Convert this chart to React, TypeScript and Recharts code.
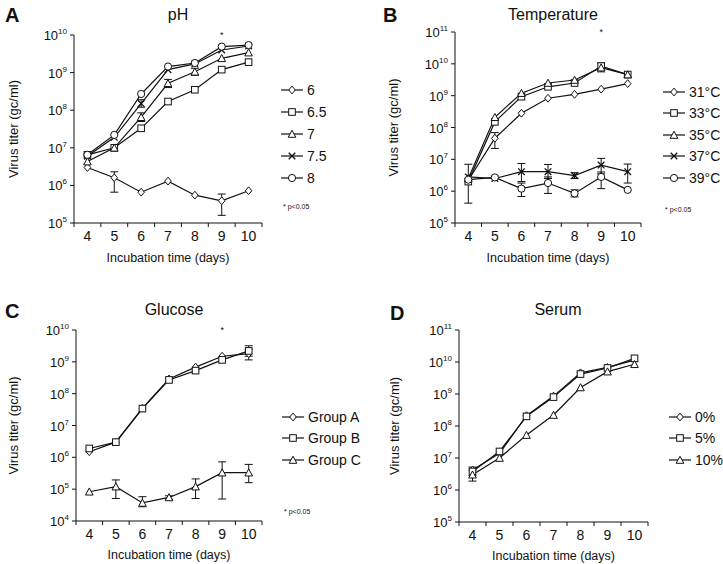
import React from 'react';
import { LineChart, Line, XAxis, YAxis, ErrorBar, Legend, ReferenceDot } from 'recharts';

const FONT = '"Liberation Sans", Arial, Helvetica, sans-serif';
const INK = '#111';

const days = [4, 5, 6, 7, 8, 9, 10];
const starDay = 9;

// A - pH
const phLabels = ['6', '6.5', '7', '7.5', '8'];
const ph6 = [3.0e6, 1.6e6, 6.6e5, 1.3e6, 5.5e5, 3.9e5, 7.2e5];
const ph6Err = [null, [6.6e5, 2.3e6], null, null, null, [1.6e5, 5.9e5], null];
const ph65 = [6.5e6, 1.0e7, 3.3e7, 1.7e8, 3.5e8, 1.2e9, 1.9e9];
const ph65Err = [null, null, null, null, null, null, null];
const ph7 = [4.3e6, 1.0e7, 6.5e7, 5.2e8, 1.05e9, 2.4e9, 3.4e9];
const ph7Err = [null, null, [5.0e7, 8.5e7], [4.0e8, 6.6e8], [8.5e8, 1.3e9], null, null];
const ph75 = [6.0e6, 1.9e7, 1.5e8, 1.2e9, 1.7e9, 4.0e9, 5.1e9];
const ph75Err = [null, null, [1.2e8, 1.9e8], null, null, null, null];
const ph8 = [6.5e6, 2.2e7, 2.7e8, 1.45e9, 1.8e9, 4.9e9, 5.4e9];
const ph8Err = [null, null, null, null, null, null, null];

// B - temperature
const tempLabels = ['31°C', '33°C', '35°C', '37°C', '39°C'];
const t31 = [2.2e6, 4.6e7, 2.8e8, 8.3e8, 1.1e9, 1.6e9, 2.4e9];
const t31Err = [null, [2.2e7, 6.9e7], null, null, null, null, null];
const t33 = [2.0e6, 1.5e8, 9.3e8, 1.9e9, 2.5e9, 8.5e9, 4.6e9];
const t33Err = [null, null, null, null, null, [5.6e9, 1.07e10], null];
const t35 = [2.5e6, 2.1e8, 1.2e9, 2.5e9, 3.1e9, 7.6e9, 4.6e9];
const t35Err = [null, null, null, null, null, null, null];
const t37 = [2.8e6, 2.5e6, 4.1e6, 4.1e6, 3.1e6, 6.6e6, 4.1e6];
const t37Err = [[4.2e5, 7.0e6], null, [2.0e6, 7.4e6], [2.5e6, 6.9e6], [2.5e6, 3.8e6], [3.5e6, 1.07e7], [1.8e6, 7.1e6]];
const t39 = [2.3e6, 2.7e6, 1.2e6, 1.8e6, 8.5e5, 2.8e6, 1.1e6];
const t39Err = [null, null, [6.8e5, 1.8e6], [8.5e5, 2.8e6], [6.6e5, 1.1e6], [1.2e6, 4.0e6], null];

// C - glucose
const glucoseLabels = ['Group A', 'Group B', 'Group C'];
const gA = [1.5e6, 3.0e6, 3.5e7, 2.9e8, 6.8e8, 1.5e9, 1.8e9];
const gAErr = [null, null, null, null, null, null, [1.15e9, 2.5e9]];
const gB = [1.9e6, 3.0e6, 3.4e7, 2.7e8, 5.3e8, 1.15e9, 2.2e9];
const gBErr = [null, null, null, null, null, null, [1.5e9, 3.2e9]];
const gC = [8.3e4, 1.2e5, 3.7e4, 5.5e4, 1.2e5, 3.3e5, 3.3e5];
const gCErr = [null, [5.1e4, 1.95e5], [2.8e4, 5.8e4], [4.8e4, 6.2e4], [5.1e4, 2.1e5], [4.9e4, 7.2e5], [1.6e5, 6.0e5]];

// D - serum
const serumLabels = ['0%', '5%', '10%'];
const s0 = [4.2e6, 1.4e7, 2.1e8, 8.6e8, 4.6e9, 6.8e9, 1.15e10];
const s0Err = [null, null, null, null, null, null, null];
const s5 = [3.8e6, 1.6e7, 2.0e8, 8.0e8, 4.2e9, 6.5e9, 1.3e10];
const s5Err = [[2.8e6, 5.2e6], null, null, null, null, null, null];
const s10 = [3.0e6, 1.0e7, 5.2e7, 2.2e8, 1.6e9, 5.0e9, 8.5e9];
const s10Err = [[1.9e6, 4.2e6], null, null, null, null, null, null];

const yTicksA = [1e5, 1e6, 1e7, 1e8, 1e9, 1e10];
const yTicksB = [1e5, 1e6, 1e7, 1e8, 1e9, 1e10, 1e11];
const yTicksC = [1e4, 1e5, 1e6, 1e7, 1e8, 1e9, 1e10];
const yTicksD = [1e5, 1e6, 1e7, 1e8, 1e9, 1e10, 1e11];

type Shape = 'diamond' | 'square' | 'triangle' | 'cross' | 'circle';
const shapes: Shape[] = ['diamond', 'square', 'triangle', 'cross', 'circle'];

interface SeriesDef {
  name: string;
  values: number[];
  bounds: (number[] | null)[];
}

const Marker = ({ shape, cx, cy }: { shape: Shape; cx: number; cy: number }) => {
  const s = 3.3;
  const common = { fill: '#fff', stroke: INK, strokeWidth: 1 };
  switch (shape) {
    case 'diamond':
      return <polygon points={`${cx},${cy - s - 0.6} ${cx + s},${cy} ${cx},${cy + s + 0.6} ${cx - s},${cy}`} {...common} />;
    case 'square':
      return <rect x={cx - s} y={cy - s} width={2 * s} height={2 * s} {...common} />;
    case 'triangle':
      return <polygon points={`${cx},${cy - s - 0.5} ${cx + s + 0.5},${cy + s} ${cx - s - 0.5},${cy + s}`} {...common} />;
    case 'cross':
      return (
        <g stroke={INK} strokeWidth={1.3}>
          <line x1={cx - s} y1={cy - s} x2={cx + s} y2={cy + s} />
          <line x1={cx - s} y1={cy + s} x2={cx + s} y2={cy - s} />
        </g>
      );
    default:
      return <circle cx={cx} cy={cy} r={s + 0.3} {...common} />;
  }
};

const DayTick = ({ x, y, payload }: any) => {
  const v = payload.value;
  if (Number.isInteger(v)) {
    return (
      <text x={x} y={y + 18} textAnchor="middle" fontSize={14} fill={INK} fontFamily={FONT}>
        {v}
      </text>
    );
  }
  return <line x1={x} x2={x} y1={y} y2={y + 4} stroke={INK} strokeWidth={1} />;
};

const PowerTick = ({ x, y, payload }: any) => {
  const exp = Math.round(Math.log10(payload.value));
  return (
    <g>
      <line x1={x - 4} x2={x} y1={y} y2={y} stroke={INK} strokeWidth={1} />
      <text x={x - 7} y={y + 5} textAnchor="end" fontSize={13} fill={INK} fontFamily={FONT}>
        <tspan>10</tspan>
        <tspan dy={-6} fontSize={8}>{exp}</tspan>
      </text>
    </g>
  );
};

const xTicks = [...days, ...days.map((d) => d - 0.5), days[days.length - 1] + 0.5].sort((a, b) => a - b);

interface Frame {
  x: number;
  y: number;
  yAxisWidth: number;
  xAxisHeight: number;
  margin: { top: number; right: number; bottom: number; left: number };
  xLabelOffset: number;
  yLabelOffset: number;
  titleX: number;
  titleY: number;
  letterX: number;
  letterY: number;
  legendLeft: number;
  legendTop: number;
  rowH: number;
  noteGap: number | null;
  star: boolean;
}

const LegendBox = ({ series, rowH, noteGap }: { series: SeriesDef[]; rowH: number; noteGap: number | null }) => (
  <div style={{ fontFamily: FONT, color: INK }}>
    {series.map((s, k) => (
      <div key={s.name} style={{ display: 'flex', alignItems: 'center', height: rowH }}>
        <svg width={22} height={12} style={{ overflow: 'visible' }}>
          <line x1={0} x2={22} y1={6} y2={6} stroke={INK} strokeWidth={1.2} />
          <Marker shape={shapes[k]} cx={11} cy={6} />
        </svg>
        <span style={{ marginLeft: 4, fontSize: 14, lineHeight: '14px' }}>{s.name}</span>
      </div>
    ))}
    {noteGap !== null && (
      <div style={{ marginTop: noteGap, marginLeft: 2, fontSize: 7, lineHeight: '8px' }}>* p&lt;0.05</div>
    )}
  </div>
);

const Panel = ({ letter, title, series, yTicks, f }: { letter: string; title: string; series: SeriesDef[]; yTicks: number[]; f: Frame }) => {
  const data = days.map((day, i) => {
    const row: Record<string, any> = { day };
    series.forEach((s, k) => {
      row[`v${k}`] = s.values[i];
      const b = s.bounds[i];
      row[`e${k}`] = b ? [s.values[i] - b[0], b[1] - s.values[i]] : null;
    });
    return row;
  });
  const top = yTicks[yTicks.length - 1];

  return (
    <div style={{ position: 'absolute', left: f.x, top: f.y, width: 361, height: 282 }}>
      <div style={{ position: 'absolute', left: f.letterX, top: f.letterY - 11, fontSize: 20, lineHeight: '22px', fontWeight: 700, fontFamily: FONT, color: INK }}>
        {letter}
      </div>
      <div style={{ position: 'absolute', left: f.titleX - 100, width: 200, top: f.titleY - 10, textAlign: 'center', fontSize: 16, lineHeight: '20px', fontFamily: FONT, color: INK }}>
        {title}
      </div>
      <LineChart width={361} height={282} data={data} margin={f.margin}>
        <XAxis
          dataKey="day"
          type="number"
          domain={[3.5, 10.5]}
          ticks={xTicks}
          interval={0}
          tickSize={0}
          tickMargin={0}
          tickLine={false}
          tick={(p: any) => <DayTick {...p} />}
          axisLine={{ stroke: INK, strokeWidth: 1 }}
          height={f.xAxisHeight}
          label={{ value: 'Incubation time (days)', position: 'insideBottom', offset: f.xLabelOffset, fontSize: 12.5, fill: INK, fontFamily: FONT }}
        />
        <YAxis
          type="number"
          scale="log"
          domain={[yTicks[0], top]}
          ticks={yTicks}
          interval={0}
          allowDataOverflow
          tickSize={0}
          tickMargin={0}
          tickLine={false}
          tick={(p: any) => <PowerTick {...p} />}
          axisLine={{ stroke: INK, strokeWidth: 1 }}
          width={f.yAxisWidth}
          label={{ value: 'Virus titer (gc/ml)', angle: -90, position: 'insideLeft', offset: f.yLabelOffset, fontSize: 13, fill: INK, fontFamily: FONT, style: { textAnchor: 'middle' } }}
        />
        {series.map((s, k) => (
          <Line
            key={s.name}
            name={s.name}
            type="linear"
            dataKey={`v${k}`}
            stroke={INK}
            strokeWidth={1.2}
            isAnimationActive={false}
            activeDot={false}
            dot={(p: any) => <Marker key={`${s.name}-${p.index}`} shape={shapes[k]} cx={p.cx} cy={p.cy} />}
          >
            <ErrorBar dataKey={`e${k}`} direction="y" width={4} stroke={INK} strokeWidth={1} />
          </Line>
        ))}
        {f.star && (
          <ReferenceDot
            x={starDay}
            y={top}
            r={0}
            isFront
            label={{ value: '*', position: 'center', fontSize: 9, fill: INK, fontFamily: FONT }}
          />
        )}
        <Legend
          layout="vertical"
          align="center"
          verticalAlign="middle"
          wrapperStyle={{ left: f.legendLeft, top: f.legendTop, width: 80 }}
          content={() => <LegendBox series={series} rowH={f.rowH} noteGap={f.noteGap} />}
        />
      </LineChart>
    </div>
  );
};

const phSeries: SeriesDef[] = [
  { name: phLabels[0], values: ph6, bounds: ph6Err },
  { name: phLabels[1], values: ph65, bounds: ph65Err },
  { name: phLabels[2], values: ph7, bounds: ph7Err },
  { name: phLabels[3], values: ph75, bounds: ph75Err },
  { name: phLabels[4], values: ph8, bounds: ph8Err },
];
const tempSeries: SeriesDef[] = [
  { name: tempLabels[0], values: t31, bounds: t31Err },
  { name: tempLabels[1], values: t33, bounds: t33Err },
  { name: tempLabels[2], values: t35, bounds: t35Err },
  { name: tempLabels[3], values: t37, bounds: t37Err },
  { name: tempLabels[4], values: t39, bounds: t39Err },
];
const glucoseSeries: SeriesDef[] = [
  { name: glucoseLabels[0], values: gA, bounds: gAErr },
  { name: glucoseLabels[1], values: gB, bounds: gBErr },
  { name: glucoseLabels[2], values: gC, bounds: gCErr },
];
const serumSeries: SeriesDef[] = [
  { name: serumLabels[0], values: s0, bounds: s0Err },
  { name: serumLabels[1], values: s5, bounds: s5Err },
  { name: serumLabels[2], values: s10, bounds: s10Err },
];

const frameA: Frame = {
  x: 0, y: 0, yAxisWidth: 74, xAxisHeight: 45,
  margin: { top: 35, right: 99, bottom: 14, left: 0 },
  xLabelOffset: 6, yLabelOffset: 13, titleX: 178, titleY: 15, letterX: 5, letterY: 15,
  legendLeft: 281, legendTop: 79, rowH: 22, noteGap: 14, star: true,
};
const frameB: Frame = {
  x: 361, y: 0, yAxisWidth: 94, xAxisHeight: 45,
  margin: { top: 32, right: 81, bottom: 14, left: 0 },
  xLabelOffset: 6, yLabelOffset: 32, titleX: 192, titleY: 15, letterX: 22, letterY: 15,
  legendLeft: 302, legendTop: 81, rowH: 21.5, noteGap: 17, star: true,
};
const frameC: Frame = {
  x: 0, y: 282, yAxisWidth: 76, xAxisHeight: 40,
  margin: { top: 48, right: 99, bottom: 3, left: 0 },
  xLabelOffset: 2, yLabelOffset: 13, titleX: 174, titleY: 28, letterX: 5, letterY: 29,
  legendLeft: 282, legendTop: 124, rowH: 21.5, noteGap: 37, star: true,
};
const frameD: Frame = {
  x: 361, y: 282, yAxisWidth: 98, xAxisHeight: 40,
  margin: { top: 48, right: 74, bottom: 2, left: 0 },
  xLabelOffset: 2, yLabelOffset: 33, titleX: 197, titleY: 28, letterX: 29, letterY: 31,
  legendLeft: 308, legendTop: 124, rowH: 21.5, noteGap: null, star: false,
};

export default function App() {
  return (
    <div style={{ position: 'absolute', left: 0, top: 0, width: 723, height: 564, background: '#fff', fontFamily: FONT }}>
      <Panel letter="A" title="pH" series={phSeries} yTicks={yTicksA} f={frameA} />
      <Panel letter="B" title="Temperature" series={tempSeries} yTicks={yTicksB} f={frameB} />
      <Panel letter="C" title="Glucose" series={glucoseSeries} yTicks={yTicksC} f={frameC} />
      <Panel letter="D" title="Serum" series={serumSeries} yTicks={yTicksD} f={frameD} />
    </div>
  );
}
